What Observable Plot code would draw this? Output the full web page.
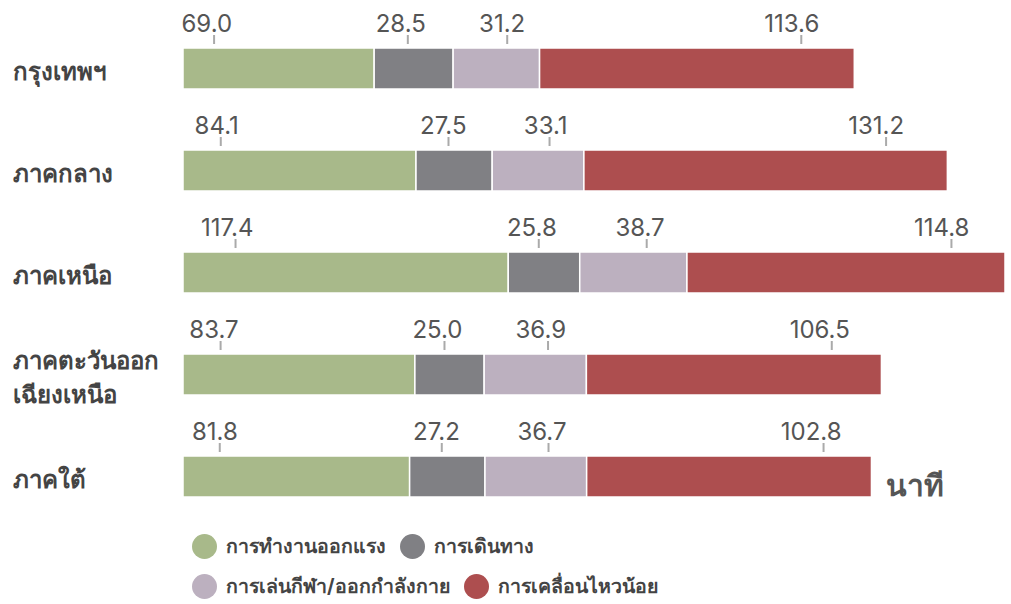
<!DOCTYPE html>
<html><head><meta charset="utf-8">
<script src="https://cdn.jsdelivr.net/npm/d3@7"></script>
<script src="https://cdn.jsdelivr.net/npm/@observablehq/plot@0.6"></script>
<style>
body{margin:0;background:#fff;font-family:Inter,Roboto,"Noto Sans",sans-serif;}
#chart svg{display:block;}
.legend{padding-left:192px;margin-top:6px;}
.lrow{display:flex;align-items:center;height:40px;}
.item{display:flex;align-items:center;margin-right:14px;font-weight:700;font-size:19.5px;color:#444;}
.dot{width:25px;height:25px;border-radius:50%;margin-right:9px;}
</style></head><body><div id="chart"></div><div class="legend" id="legend"></div>
<script>
const regions = ["กรุงเทพฯ","ภาคกลาง","ภาคเหนือ","ภาคตะวันออก\nเฉียงเหนือ","ภาคใต้"];
const activities = ["การทำงานออกแรง","การเดินทาง","การเล่นกีฬา/ออกกำลังกาย","การเคลื่อนไหวน้อย"];
const work = [69.0,84.1,117.4,83.7,81.8];
const travel = [28.5,27.5,25.8,25.0,27.2];
const sport = [31.2,33.1,38.7,36.9,36.7];
const sedentary = [113.6,131.2,114.8,106.5,102.8];
const colors = ["#a8b98a","#808084","#bcb0bf","#ad4e4f"];
const unitLabel = "นาที";

// label placement along each segment (fraction of segment), per activity
const labelFrac = [0.16,0.42,0.62,0.83];

const series = [work, travel, sport, sedentary];
const rows = [];
regions.forEach((r,i)=>{
  let start = 0;
  series.forEach((s,j)=>{
    rows.push({region:r, activity:activities[j], value:s[i], x1:start, x2:start+s[i], lx:start+labelFrac[j]*s[i]});
    start += s[i];
  });
});
const totals = regions.map((r,i)=>d3.sum(series, s=>s[i]));
const maxTotal = d3.max(totals);
const lastIdx = regions.length-1;

const chart = Plot.plot({
  width:1011, height:520,
  marginLeft:183, marginRight:6, marginTop:47, marginBottom:23,
  style:{fontFamily:"Inter, Roboto, 'Noto Sans', sans-serif", background:"#fff"},
  x:{domain:[0,maxTotal], axis:null},
  y:{domain:regions, paddingInner:0.6, paddingOuter:0, label:null},
  color:{domain:activities, range:colors},
  marks:[
    Plot.axisY({tickSize:0, tickPadding:0, textAnchor:"start", dx:-171, fontSize:24, fontWeight:800, fill:"#444", lineHeight:1.4, label:null}),
    Plot.barX(rows,{x1:"x1", x2:"x2", y:"region", fill:"activity", stroke:"#fff", strokeWidth:1.5}),
    Plot.tickX(rows,{x:"lx", y:"region", stroke:"#aaa", strokeWidth:2, insetTop:0, insetBottom:32, dy:-13}),
    Plot.text(rows,{x:"lx", y:"region", text:d=>d.value.toFixed(1), textAnchor:"end", lineAnchor:"bottom", dx:18, dy:-37, fontSize:24, fill:"#555"}),
    Plot.text([{x:totals[lastIdx], y:regions[lastIdx]}],{x:"x", y:"y", text:()=>unitLabel, textAnchor:"start", dx:14, dy:9, fontSize:30, fontWeight:800, fill:"#555"})
  ]
});
document.getElementById("chart").appendChild(chart);

const leg = document.getElementById("legend");
[[0,1],[2,3]].forEach(pair=>{
  const row = document.createElement("div"); row.className="lrow";
  pair.forEach(j=>{
    const it = document.createElement("div"); it.className="item";
    const d = document.createElement("span"); d.className="dot"; d.style.background=colors[j];
    const t = document.createElement("span"); t.textContent=activities[j];
    it.appendChild(d); it.appendChild(t); row.appendChild(it);
  });
  leg.appendChild(row);
});
</script></body></html>
